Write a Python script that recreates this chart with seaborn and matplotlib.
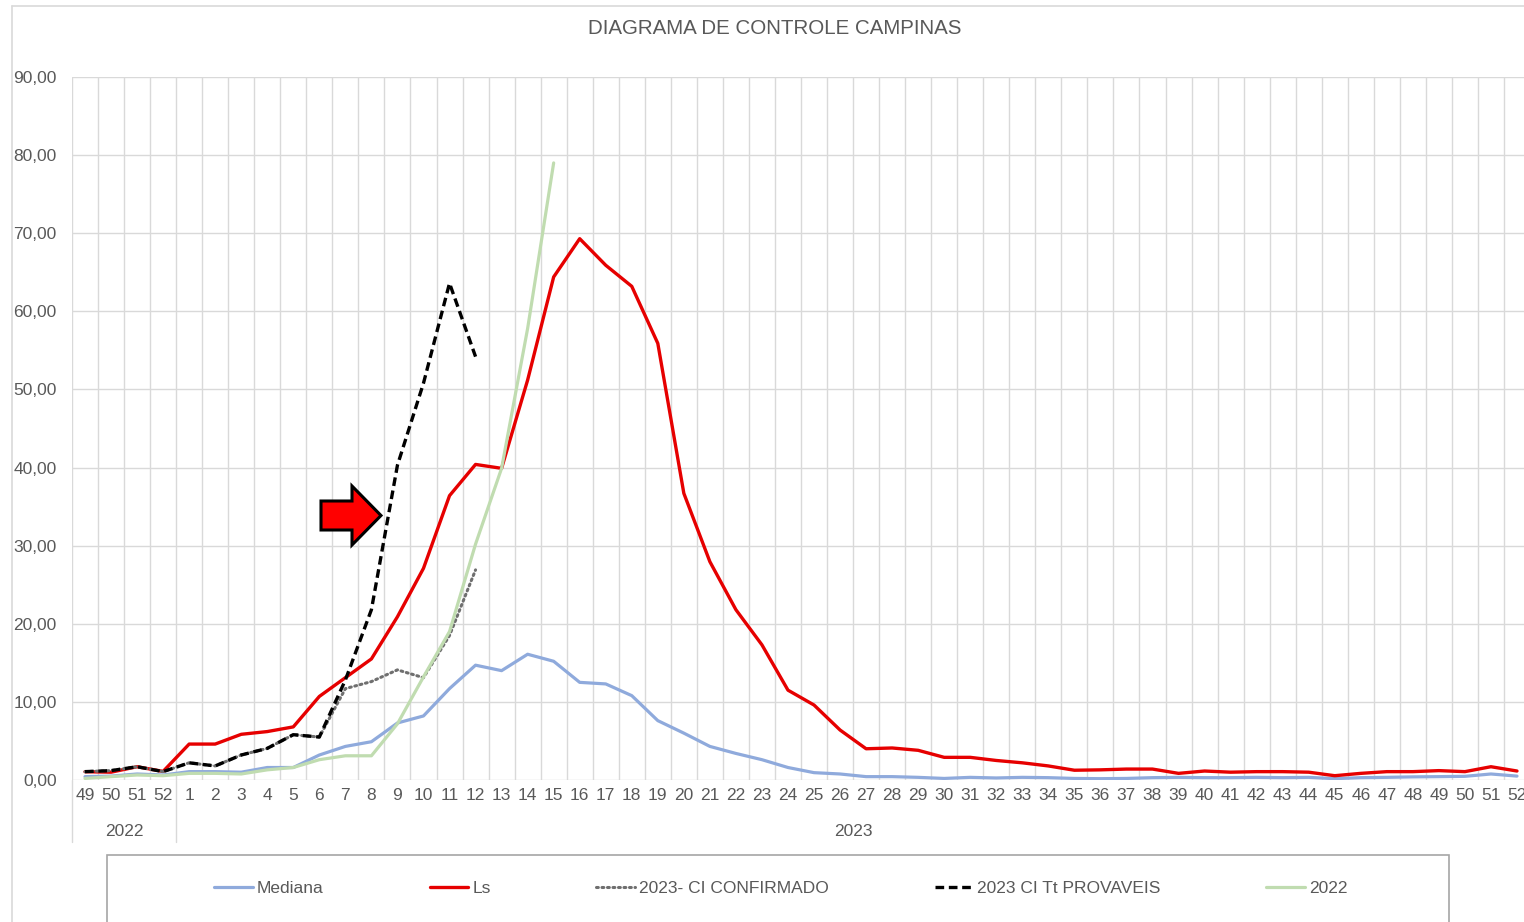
import numpy as np
import pandas as pd
import matplotlib
matplotlib.use("Agg")
import matplotlib.pyplot as plt
import matplotlib.transforms as mtransforms
from matplotlib.patches import Polygon, Rectangle
from matplotlib.lines import Line2D
import seaborn as sns

# ================= DADOS =================
semanas = [49, 50, 51, 52] + list(range(1, 53))
anos = ["2022", "2023"]

mediana = [0.43, 0.5, 0.77, 0.64,
           1.07, 1.07, 1.0, 1.6, 1.6, 3.2, 4.3, 4.9, 7.3, 8.2, 11.7, 14.7, 14.0,
           16.1, 15.2, 12.5, 12.3, 10.8, 7.6, 6.0, 4.3, 3.4, 2.6, 1.6, 0.94, 0.77,
           0.43, 0.43, 0.34, 0.2, 0.34, 0.26, 0.34, 0.3, 0.2, 0.17, 0.2, 0.3, 0.34,
           0.3, 0.3, 0.34, 0.3, 0.34, 0.17, 0.3, 0.34, 0.4, 0.43, 0.47, 0.77, 0.5]

ls = [1.06, 1.0, 1.7, 1.1,
      4.6, 4.6, 5.85, 6.2, 6.8, 10.7, 13.1, 15.5, 20.9, 27.1, 36.4, 40.4, 39.9,
      51.2, 64.4, 69.3, 65.9, 63.2, 55.9, 36.7, 27.95, 21.8, 17.3, 11.5, 9.6, 6.4,
      4.0, 4.1, 3.8, 2.9, 2.9, 2.5, 2.2, 1.8, 1.25, 1.3, 1.4, 1.4, 0.85, 1.15, 1.0,
      1.07, 1.07, 1.0, 0.55, 0.85, 1.07, 1.07, 1.2, 1.07, 1.7, 1.15]

ci_confirmado = [1.07, 1.2, 1.7, 1.07,
                 2.2, 1.8, 3.2, 4.05, 5.8, 5.5, 11.7, 12.6, 14.1, 13.1, 18.5, 26.9]

ci_provaveis = [1.07, 1.2, 1.7, 1.07,
                2.2, 1.8, 3.2, 4.05, 5.8, 5.5, 12.8, 21.8, 40.3, 50.8, 63.6, 54.2]

ano_2022 = [0.2, 0.43, 0.64, 0.55,
            0.85, 0.85, 0.77, 1.3, 1.6, 2.6, 3.1, 3.1, 7.2, 13.2, 19.0, 30.2, 39.9,
            57.8, 79.0]


def completar(valores, n):
    return valores + [np.nan] * (n - len(valores))


n = len(semanas)
df = pd.DataFrame({
    "pos": np.arange(n),
    "Mediana": mediana,
    "Ls": ls,
    "2023- CI CONFIRMADO": completar(ci_confirmado, n),
    "2023 CI Tt PROVAVEIS": completar(ci_provaveis, n),
    "2022": completar(ano_2022, n),
})

# ================= ESTILO =================
sns.set_style("white")
plt.rcParams["font.family"] = ["Liberation Sans", "DejaVu Sans"]
CINZA_TXT = "#595959"
CINZA_GRID = "#d9d9d9"

W, H = 1524, 922
fig = plt.figure(figsize=(W / 100, H / 100), dpi=100)
ax = fig.add_axes([72 / W, 1 - 780 / H, (1530 - 72) / W, (780 - 77) / H])

series = [
    ("Mediana", "#8faadc", "-", 2.3),
    ("Ls", "#e60000", "-", 2.4),
    ("2023- CI CONFIRMADO", "#6f6f6f", (0, (0.6, 1.2)), 2.2),
    ("2023 CI Tt PROVAVEIS", "#000000", (0, (2.6, 1.4)), 2.4),
    ("2022", "#c0dcb0", "-", 2.3),
]
for nome, cor, estilo, lw in series:
    sns.lineplot(data=df, x="pos", y=nome, ax=ax, color=cor, linestyle=estilo,
                 linewidth=lw, label=nome, legend=False)
for ln in ax.lines:
    if ln.get_label() == "2023- CI CONFIRMADO":
        ln.set_dash_capstyle("round")

# eixos
ax.set_xlim(-0.5, n - 0.5)
ax.set_ylim(0, 90)
ax.set_xticks(np.arange(n))
ax.set_xticklabels([str(s) for s in semanas])
ax.set_xticks(np.arange(-0.5, n, 1), minor=True)
ax.set_yticks(np.arange(0, 91, 10))
ax.set_yticklabels([f"{v:.2f}".replace(".", ",") for v in np.arange(0, 91, 10)])
ax.tick_params(which="both", length=0, labelsize=12.5, labelcolor=CINZA_TXT)
ax.tick_params(axis="x", pad=6)
ax.tick_params(axis="y", pad=11)
ax.grid(False)
ax.grid(which="minor", axis="x", color=CINZA_GRID, linewidth=1)
ax.grid(which="major", axis="y", color=CINZA_GRID, linewidth=1)
ax.set_xlabel("")
ax.set_ylabel("")
for sp in ax.spines.values():
    sp.set_visible(False)
if ax.get_legend() is not None:
    ax.get_legend().remove()

# eixo de categorias em dois níveis (ano)
trans = mtransforms.blended_transform_factory(ax.transData, ax.transAxes)
alt = 780 - 77
y_ano = -(831 - 780) / alt
y_sep = -(842 - 780) / alt
ax.text(1.5, y_ano, anos[0], transform=trans, ha="center", va="center",
        fontsize=12.5, color=CINZA_TXT)
ax.text((3.5 + n - 0.5) / 2, y_ano, anos[1], transform=trans, ha="center",
        va="center", fontsize=12.5, color=CINZA_TXT)
for xs in (-0.5, 3.5):
    ax.plot([xs, xs], [0, y_sep], transform=trans, color=CINZA_GRID, lw=1,
            clip_on=False)

# título
fig.text(775 / W, 1 - 29 / H, "DIAGRAMA DE CONTROLE CAMPINAS", ha="center",
         va="center", fontsize=14.8, color=CINZA_TXT)

# borda externa do gráfico
fig.add_artist(Line2D([12 / W, 12 / W], [0, 1 - 6 / H], transform=fig.transFigure,
                      color=CINZA_GRID, lw=1.2))
fig.add_artist(Line2D([12 / W, 1], [1 - 6 / H, 1 - 6 / H], transform=fig.transFigure,
                      color=CINZA_GRID, lw=1.2))

# seta vermelha
pts = [(321, 501), (352, 501), (352, 486), (381, 515.5), (352, 545), (352, 530), (321, 530)]
seta = Polygon([(x / W, 1 - y / H) for x, y in pts], closed=True, transform=fig.transFigure,
               facecolor="#ff0000", edgecolor="black", linewidth=2.2, zorder=10)
fig.add_artist(seta)

# legenda
fig.add_artist(Rectangle((107 / W, -0.05), (1449 - 107) / W, 0.05 + 1 - 855 / H,
                         transform=fig.transFigure, facecolor="none",
                         edgecolor="#a6a6a6", linewidth=1.2))
handles, labels = ax.get_legend_handles_labels()
leg = fig.legend(handles, labels, loc="center", bbox_to_anchor=(781 / W, 1 - 888 / H),
                 ncol=5, frameon=False, columnspacing=6.1, handlelength=2.2,
                 handletextpad=0.25, fontsize=12.5)
for t in leg.get_texts():
    t.set_color(CINZA_TXT)

fig.savefig("out.png", dpi=100)
